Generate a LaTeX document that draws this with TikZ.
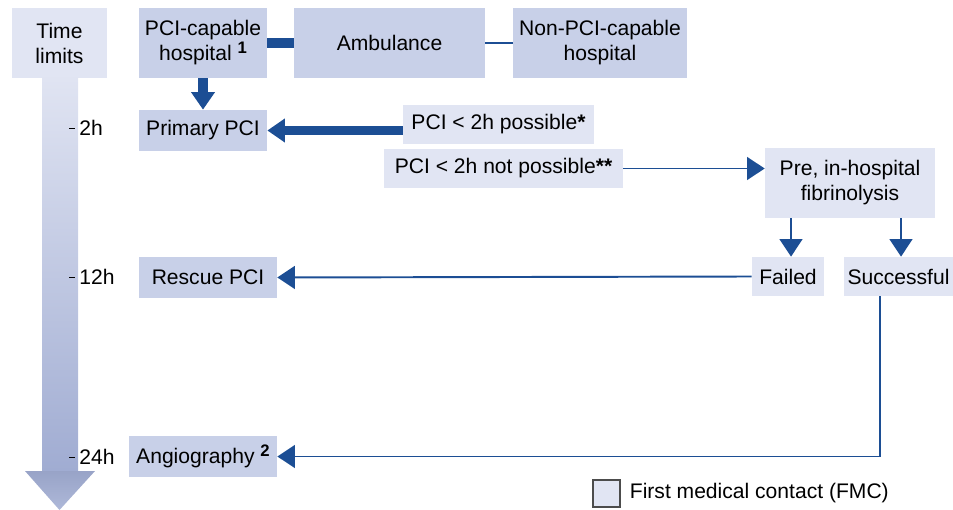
\documentclass[tikz,border=0pt]{standalone}
\usepackage{fontspec}
\setmainfont{Liberation Sans}
\usetikzlibrary{arrows.meta,positioning}
\definecolor{fmcblue}{RGB}{225,229,243}
\definecolor{boxblue}{RGB}{200,208,232}
\definecolor{arrblue}{RGB}{28,78,148}
\definecolor{bartop}{RGB}{224,228,242}
\definecolor{barbot}{RGB}{160,172,210}
\newcommand{\fnmark}[1]{\raisebox{0.65ex}{\fontsize{9.5}{9.5}\selectfont\textbf{#1}}}

\begin{document}
\begin{tikzpicture}[
    x=0.02cm, y=-0.02cm,
    every node/.style={font=\fontsize{12}{14.2}\selectfont},
    box/.style={fill=boxblue, inner sep=0pt, align=center, minimum height=0.82cm},
    fmc/.style={fill=fmcblue, inner sep=0pt, align=center, minimum height=0.78cm},
    thk/.style={draw=arrblue, line width=5.5pt},
    thn/.style={draw=arrblue, line width=1.1pt},
    tip/.style={-{Triangle[width=13pt,length=10pt]}, arrblue},
    hour/.style={anchor=west, inner sep=0pt},
  ]
    \useasboundingbox (0,0) rectangle (953,510);

    % === Time axis ===
    \node[fmc, minimum width=1.9cm, minimum height=1.4cm] (time) at (59.5,43) {Time\\limits};
    \shade[top color=bartop, bottom color=barbot] (42,78) rectangle (78,471);
    \shade[top color=barbot!95!black, bottom color=barbot!85!white]
      (25,471) -- (95,471) -- (59.5,510) -- cycle;
    \foreach \t/\h in {128/2h, 277/12h, 457/24h} {
      \draw[line width=0.5pt] (69,\t) -- (75,\t);
      \node[hour] (h\h) at (79,\t) {\h};
    }

    % === Top row ===
    \node[box, minimum width=2.56cm, minimum height=1.4cm] (pcicap) at (203,43)
      {PCI-capable\\hospital \fnmark{1}};
    \node[box, minimum width=3.82cm, minimum height=1.4cm] (amb) at (389.5,43) {Ambulance};
    \node[box, minimum width=3.48cm, minimum height=1.4cm] (nonpci) at (600,43)
      {Non-PCI-capable\\hospital};
    \draw[thk] (pcicap.east |- 0,43) -- (amb.west |- 0,43);
    \draw[thn] (amb.east) -- (nonpci.west);

    % === Primary PCI ===
    \node[box, minimum width=2.56cm] (primary) at (203,130.5) {Primary PCI};
    \node[fmc, minimum width=3.82cm] (poss) at (498.5,124.5) {PCI < 2h possible\textbf{*}};
    \node[fmc, minimum width=4.78cm] (notposs) at (503.5,168.5) {PCI < 2h not possible\textbf{**}};
    \draw[thk, tip] (pcicap.south) -- (primary.north);
    \draw[thk, tip] (poss.west |- primary) -- (primary.east);

    % === Fibrinolysis ===
    \node[fmc, minimum width=3.4cm, minimum height=1.4cm] (fib) at (850,183)
      {Pre, in-hospital\\fibrinolysis};
    \draw[thn, tip] (notposs.east) -- (notposs.east -| fib.west);
    \node[fmc, minimum width=1.44cm] (failed) at (788,276.5) {Failed};
    \node[fmc, minimum width=2.18cm] (succ) at (898.5,276.5) {Successful};
    \draw[thn, tip] ([xshift=0.06cm]failed.north |- fib.south) -- ([xshift=0.06cm]failed.north);
    \draw[thn, tip] ([xshift=0.05cm]succ.north |- fib.south) -- ([xshift=0.05cm]succ.north);

    % === Rescue PCI / Angiography ===
    \node[box, minimum width=2.76cm] (rescue) at (208,277.5) {Rescue PCI};
    \node[box, minimum width=2.96cm] (angio) at (203,456.5)
      {Angiography \fnmark{2}};
    \draw[thn, tip] (failed.west) -- (rescue.east);
    \draw[thn, tip] ([xshift=-0.37cm]succ.south) |- (angio.east);

    % === Legend ===
    \node[fill=fmcblue, draw=black!70, line width=0.6pt, minimum size=0.54cm, inner sep=0pt]
      (key) at (606.5,493.5) {};
    \node[right=0.18cm of key, inner sep=0pt] (keylbl) {First medical contact (FMC)};
  \end{tikzpicture}
\end{document}
